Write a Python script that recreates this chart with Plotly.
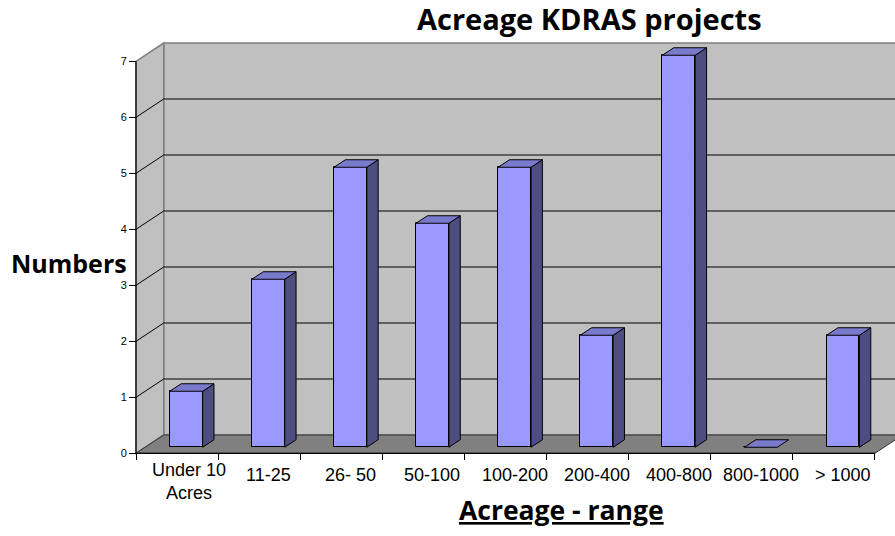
import plotly.graph_objects as go

# ---- data ----
categories = ["Under 10\nAcres", "11-25", "26- 50", "50-100", "100-200",
              "200-400", "400-800", "800-1000", "> 1000"]
values = [1, 3, 5, 4, 5, 2, 7, 0, 2]
y_ticks = [0, 1, 2, 3, 4, 5, 6, 7]

title_text = "Acreage KDRAS projects"
y_title = "Numbers"
x_title = "Acreage - range"

# ---- 3D geometry (in axis units) ----
W, H = 895, 536
PX_CAT = 82.1      # px per category
PX_VAL = 56.0      # px per value unit
X0_PX = 136.0      # front-left edge px
Y0_PX = 453.3      # front zero line px
DX = 27.7 / PX_CAT     # wall depth in x units
DY = 18.3 / PX_VAL     # wall depth in y units
F0 = 0.33              # bar front depth fraction
D = 0.41               # bar depth fraction
BW = 0.40              # bar width (category units)
YMAX = max(y_ticks)
n = len(categories)
xl, xr = -0.5, n - 0.5

xrange = [(0 - X0_PX) / PX_CAT - 0.5, (W - X0_PX) / PX_CAT - 0.5]
yrange = [(Y0_PX - H) / PX_VAL, Y0_PX / PX_VAL]

FRONT = "#9999FF"
SIDE = "#4D4D80"
TOP = "#7A7ACC"


def poly(pts):
    return "M " + " L ".join(f"{x},{y}" for x, y in pts) + " Z"


shapes = []
# back wall
shapes.append(dict(type="path", xref="x", yref="y", layer="below",
                   path=poly([(xl + DX, DY), (xr + DX, DY), (xr + DX, YMAX + DY), (xl + DX, YMAX + DY)]),
                   fillcolor="#C0C0C0", line=dict(color="#808080", width=1.5)))
# left wall
shapes.append(dict(type="path", xref="x", yref="y", layer="below",
                   path=poly([(xl, 0), (xl + DX, DY), (xl + DX, YMAX + DY), (xl, YMAX)]),
                   fillcolor="#C0C0C0", line=dict(color="#808080", width=1.5)))
# floor
shapes.append(dict(type="path", xref="x", yref="y", layer="below",
                   path=poly([(xl, 0), (xr, 0), (xr + DX, DY), (xl + DX, DY)]),
                   fillcolor="#808080", line=dict(color="#303030", width=1)))
# gridlines
for v in y_ticks[1:-1]:
    shapes.append(dict(type="line", xref="x", yref="y", layer="below",
                       x0=xl + DX, x1=xr + DX, y0=v + DY, y1=v + DY,
                       line=dict(color="black", width=1)))
    shapes.append(dict(type="line", xref="x", yref="y", layer="below",
                       x0=xl, x1=xl + DX, y0=v, y1=v + DY,
                       line=dict(color="black", width=1)))
# front axis lines
shapes.append(dict(type="line", xref="x", yref="y", layer="below",
                   x0=xl, x1=xl, y0=0, y1=YMAX, line=dict(color="black", width=1.2)))
shapes.append(dict(type="line", xref="x", yref="y", layer="below",
                   x0=xl, x1=xr, y0=0, y1=0, line=dict(color="black", width=1.2)))

fig = go.Figure()

# bar front faces
base = F0 * DY
fig.add_trace(go.Bar(
    x=[i + F0 * DX for i in range(n)], y=values, base=[base] * n, width=BW,
    marker=dict(color=FRONT, line=dict(color="black", width=1)),
    hoverinfo="skip", showlegend=False))

# side and top faces
sx, sy, tx, ty = [], [], [], []
for i, v in enumerate(values):
    cx = i + F0 * DX
    x_l, x_r = cx - BW / 2, cx + BW / 2
    y_b, y_t = base, base + v
    ddx, ddy = D * DX, D * DY
    if v > 0:
        sx += [x_r, x_r + ddx, x_r + ddx, x_r, x_r, None]
        sy += [y_b, y_b + ddy, y_t + ddy, y_t, y_b, None]
    tx += [x_l, x_r, x_r + ddx, x_l + ddx, x_l, None]
    ty += [y_t, y_t, y_t + ddy, y_t + ddy, y_t, None]

fig.add_trace(go.Scatter(x=sx, y=sy, mode="lines", fill="toself", fillcolor=SIDE,
                         line=dict(color="black", width=1), hoverinfo="skip", showlegend=False))
fig.add_trace(go.Scatter(x=tx, y=ty, mode="lines", fill="toself", fillcolor=TOP,
                         line=dict(color="black", width=1), hoverinfo="skip", showlegend=False))

annotations = []
# category labels
lab_y = (Y0_PX - 475) / PX_VAL
for i, lab in enumerate(categories):
    multi = "\n" in lab
    annotations.append(dict(x=i + F0 * DX + (0.04 if multi else 0),
                            y=lab_y, xref="x", yref="y",
                            text=lab.replace("\n", "<br>"), showarrow=False,
                            yshift=-6 if multi else 0,
                            xanchor="center", yanchor="middle", align="center",
                            font=dict(family="Liberation Sans, Arial", size=18, color="black")))

annotations.append(dict(x=589 / W, y=1 - 19 / H, xref="paper", yref="paper", text=f"<b>{title_text}</b>",
                        showarrow=False, xanchor="center", yanchor="middle",
                        font=dict(family="Open Sans", size=29, color="black")))
annotations.append(dict(x=69 / W, y=1 - 263 / H, xref="paper", yref="paper", text=f"<b>{y_title}</b>",
                        showarrow=False, xanchor="center", yanchor="middle",
                        font=dict(family="Open Sans", size=25, color="black")))
annotations.append(dict(x=561 / W, y=1 - 510 / H, xref="paper", yref="paper", text=f"<b>{x_title}</b>",
                        showarrow=False, xanchor="center", yanchor="middle",
                        font=dict(family="Open Sans", size=26.5, color="black", lineposition="under")))

fig.update_layout(
    width=W, height=H, autosize=False,
    margin=dict(l=0, r=0, t=0, b=0, pad=0),
    paper_bgcolor="white", plot_bgcolor="white",
    shapes=shapes, annotations=annotations, bargap=0,
    xaxis=dict(range=xrange, anchor="free", position=1 - Y0_PX / H,
               tickmode="array", tickvals=[k - 0.5 for k in range(n + 1)],
               ticks="outside", ticklen=6, tickcolor="black", tickwidth=1.2,
               showticklabels=False, showgrid=False, zeroline=False, showline=False,
               fixedrange=True),
    yaxis=dict(range=yrange, anchor="free", position=X0_PX / W,
               tickmode="array", tickvals=y_ticks, ticktext=[str(t) for t in y_ticks],
               ticks="outside", ticklen=7, tickcolor="black", tickwidth=1.2,
               tickfont=dict(family="Liberation Sans, Arial", size=11, color="black"),
               showgrid=False, zeroline=False, showline=False, fixedrange=True),
)

fig.write_html("out.html", config={"displayModeBar": False},
               post_script="document.body.style.margin='0px';")
